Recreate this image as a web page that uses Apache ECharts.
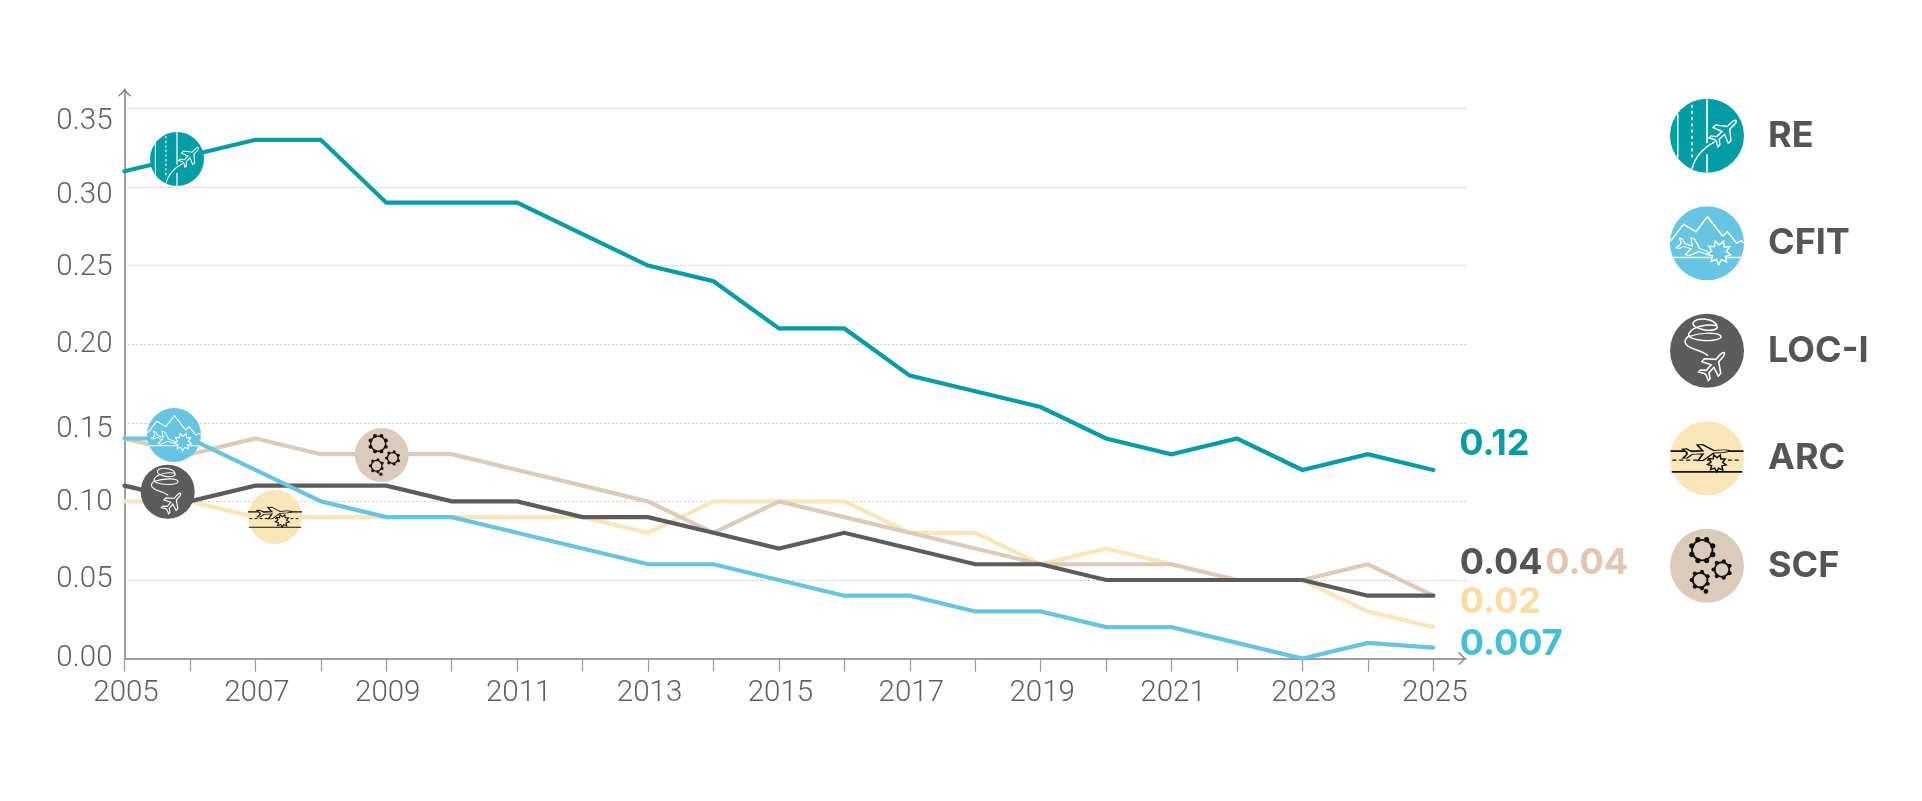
<!DOCTYPE html>
<html><head><meta charset="utf-8">
<style>html,body{margin:0;padding:0;background:#fff}#c{width:1922px;height:801px}</style>
<script src="https://cdn.jsdelivr.net/npm/echarts@6/dist/echarts.min.js"></script>
</head><body><div id="c"></div>
<script>
const years = [2005,2006,2007,2008,2009,2010,2011,2012,2013,2014,2015,2016,2017,2018,2019,2020,2021,2022,2023,2024,2025];
const xLabelYears = [2005,2007,2009,2011,2013,2015,2017,2019,2021,2023,2025];
const yTicks = [0,0.05,0.10,0.15,0.20,0.25,0.30,0.35];
const RE   = [0.31,0.32,0.33,0.33,0.29,0.29,0.29,0.27,0.25,0.24,0.21,0.21,0.18,0.17,0.16,0.14,0.13,0.14,0.12,0.13,0.12];
const CFIT = [0.14,0.14,0.12,0.10,0.09,0.09,0.08,0.07,0.06,0.06,0.05,0.04,0.04,0.03,0.03,0.02,0.02,0.01,0.00,0.01,0.007];
const LOCI = [0.11,0.10,0.11,0.11,0.11,0.10,0.10,0.09,0.09,0.08,0.07,0.08,0.07,0.06,0.06,0.05,0.05,0.05,0.05,0.04,0.04];
const ARC  = [0.10,0.10,0.09,0.09,0.09,0.09,0.09,0.09,0.08,0.10,0.10,0.10,0.08,0.08,0.06,0.07,0.06,0.05,0.05,0.03,0.02];
const SCF  = [0.14,0.13,0.14,0.13,0.13,0.13,0.12,0.11,0.10,0.08,0.10,0.09,0.08,0.07,0.06,0.06,0.06,0.05,0.05,0.06,0.04];
const legendOrder = ['RE','CFIT','LOC-I','ARC','SCF'];

const C = {RE:'#009da5',CFIT:'#66c5e2','LOC-I':'#5c5c5c',ARC:'#fae6b8',SCF:'#dccbb9'};
const TXT = '#5f5f5f';
const FONT = 'Roboto';

function zip(v){return years.map((y,i)=>[y,v[i]]);}
function line(name,v,endText,endColor,off,z){
  return {type:'line',name,data:zip(v),symbol:'none',clip:false,z,
    lineStyle:{color:C[name],width:4.2,cap:'round',join:'miter'},itemStyle:{color:C[name]},
    endLabel:{show:true,formatter:endText,color:endColor,fontFamily:'Inter',fontWeight:700,fontSize:36,offset:off},
    emphasis:{disabled:true}};
}

/* ---- decorative pictograms, r = 100 units ---- */
const PLANE='M-30,-3 L-36,-14 L-30,-14 L-22,-4 L-6,-4 L-14,-24 L-6,-24 L10,-4 L24,-4 Q33,-3 33,0 Q33,3 24,4 L10,4 L-6,24 L-14,24 L-6,4 L-22,4 L-30,14 L-36,14 L-30,3 Z';
const STAR=[];for(let i=0;i<18;i++){const r=i%2?0.62:1,a=i/18*Math.PI*2+0.2;STAR.push((i?'L':'M')+(Math.cos(a)*r).toFixed(3)+','+(Math.sin(a)*r).toFixed(3));}
const STARP=STAR.join(' ')+' Z';
const shapeNames={};let shapeCount=0;
function shapeOf(d){
  if(!shapeNames[d]){const n='icp'+(shapeCount++);echarts.graphic.registerShape(n,echarts.graphic.extendPath(d,{}));shapeNames[d]=n;}
  return shapeNames[d];
}
function p(d,stroke,fill,w,ex){return Object.assign({type:shapeOf(d),shape:{},style:{stroke,fill:fill||'none',lineWidth:w,lineDash:ex&&ex.dash||null},z:100},ex&&ex.t||{});}
function icon(name){
  const W='#ffffff',K='#111111',bg=C[name];
  if(name==='RE')return [
    p('M-80,-60 L-80,60',W,null,4),
    p('M-41,-85 L-41,63',W,null,4,{dash:[9,8]}),
    p('M0,-100 L0,21 M0,51 L0,100',W,null,4.5),
    p('M-41,91 Q-30,44 21,17',W,null,4),
    p(PLANE,W,bg,3.2,{t:{x:50,y:-13,rotation:0.77,scaleX:1.25,scaleY:1.25}})
  ];
  if(name==='CFIT')return [
    p('M-99,-6 L-64,-51 L-30,-31 L1,-72 L43,-19 L56,-31 L81,0 L94,-6 L100,0',W,null,4),
    p('M-94,40 L92,40',W,null,4),
    p(PLANE,W,bg,3,{t:{x:-34,y:15,rotation:-0.33,scaleX:1.35,scaleY:1.0}}),
    p(STARP,W,bg,0.12,{t:{x:33,y:26,scaleX:33,scaleY:33}})
  ];
  if(name==='LOC-I')return [
    p('M28,-65 C24,-88 -30,-94 -38,-76 C-44,-60 14,-48 28,-62 M28,-62 C34,-76 -38,-72 -50,-46 C-56,-24 30,-22 38,-36 C42,-50 -10,-52 -52,-38 C-72,-22 -52,-8 -30,-2 C-12,4 -6,6 2,14',W,null,4),
    p(PLANE,W,bg,3.4,{t:{x:20,y:37,rotation:0.85,scaleX:1.25,scaleY:1.25}})
  ];
  if(name==='ARC')return [
    p('M-100,-19 L100,-19 M-97,38 L97,38',K,null,4.5),
    p('M-95,6 L95,6',K,null,3.5,{dash:[11,8]}),
    p(STARP,K,bg,0.16,{t:{x:27,y:14,scaleX:26,scaleY:24}}),
    p(PLANE,K,bg,3,{t:{x:0,y:-16,rotation:0.06,scaleX:1.85,scaleY:0.9}})
  ];
  const gears=[[-13,-42,28,8,10],[41,11,20,7,8],[-19,40,20,7,8]], out=[];
  gears.forEach(g=>{
    out.push({type:'circle',shape:{cx:g[0],cy:g[1],r:g[2]},style:{stroke:K,fill:'none',lineWidth:5},z:100});
    for(let i=0;i<g[3];i++){const a=(i+0.5)/g[3]*Math.PI*2;
      out.push({type:'circle',shape:{cx:g[0]+Math.cos(a)*(g[2]+3),cy:g[1]+Math.sin(a)*(g[2]+3),r:g[4]*0.72},style:{fill:K},z:100});}
  });
  out.push({type:'circle',shape:{cx:-3,cy:71,r:6.5},style:{fill:K},z:100});
  return out;
}
function badge(name,cx,cy,r,disc){
  const s=r/100, kids=icon(name);
  if(disc)kids.unshift({type:'circle',shape:{cx:0,cy:0,r:100},style:{fill:C[name]},z:99});
  return {type:'group',x:cx,y:cy,scaleX:s,scaleY:s,silent:true,z:100,children:kids};
}
const graphics=[
  badge('RE',177,159,27,true),badge('CFIT',174,435,27,true),badge('LOC-I',167.7,491.7,27,true),
  badge('ARC',275,517,27,true),badge('SCF',381.7,455,27,true),
  badge('RE',1707,135.7,36.5,false),badge('CFIT',1707,243,36.5,false),badge('LOC-I',1707,350.5,36.5,false),
  badge('ARC',1707,458,36.5,false),badge('SCF',1707,565.5,36.5,false)
];

const yDy={'0':0,'0.05':0,'0.1':1,'0.15':7,'0.2':0,'0.25':2,'0.3':9,'0.35':13};
const rich={};
yTicks.forEach((t,i)=>{const d=yDy[String(t)];
  rich['t'+i]={fontFamily:FONT,fontWeight:300,fontSize:29.5,color:TXT,padding:[2*d,0,0,0]};});
const ARROW='path://M0,0 L10,10 L8.5,11.5 L0,3 L-8.5,11.5 L-10,10 Z';

const chart=echarts.init(document.getElementById('c'),null,{renderer:'canvas'});
chart.setOption({
  animation:false,backgroundColor:'#fff',
  grid:{left:124.5,right:456,top:89,bottom:142.4,containLabel:false},
  legend:{orient:'vertical',left:1670,top:98.7,padding:0,itemWidth:74,itemHeight:74,itemGap:33.5,icon:'circle',selectedMode:false,
    data:legendOrder,
    textStyle:{fontFamily:'Inter',fontWeight:700,fontSize:36,color:'#555555',padding:[0,0,9,19]}},
  xAxis:{type:'value',min:2005,max:2025.5,
    axisLine:{onZero:true,symbol:['none',ARROW],symbolSize:[13,7.5],symbolOffset:[0,-4],lineStyle:{color:'#808080',width:1.5}},
    axisTick:{show:true,customValues:years,length:13,lineStyle:{color:'#999999',width:1.2}},
    axisLabel:{customValues:xLabelYears,formatter:v=>String(v),fontFamily:FONT,fontWeight:300,fontSize:29.5,color:TXT,margin:20,padding:[0,0,0,3]},
    splitLine:{show:false}},
  yAxis:{type:'value',min:0,max:0.3623,interval:0.05,
    axisLine:{show:true,symbol:['none',ARROW],symbolSize:[13,7.5],symbolOffset:[0,-4],lineStyle:{color:'#808080',width:1.5}},
    axisTick:{show:false},
    axisLabel:{showMaxLabel:false,margin:12,
      formatter:v=>{const i=yTicks.findIndex(t=>Math.abs(t-v)<1e-6);return i<0?'':'{t'+i+'|'+yTicks[i].toFixed(2)+'}';},rich},
    splitLine:{show:true,showMinLine:false,showMaxLine:false,lineStyle:{color:'#b8b8b8',type:[1.5,2.5],width:1}}},
  series:[
    line('ARC',ARC,'0.02','#fcdca6',[18.5,-25],2),
    line('SCF',SCF,'0.04','#e2c6b0',[104,-32.5],3),
    line('LOC-I',LOCI,'0.04','#555555',[18.5,-32.5],4),
    line('CFIT',CFIT,'0.007','#45bfd6',[18.5,-3.4],5),
    line('RE',RE,'0.12','#009da5',[18,-25.5],6)
  ],
  graphic:{elements:graphics}
});
</script></body></html>
